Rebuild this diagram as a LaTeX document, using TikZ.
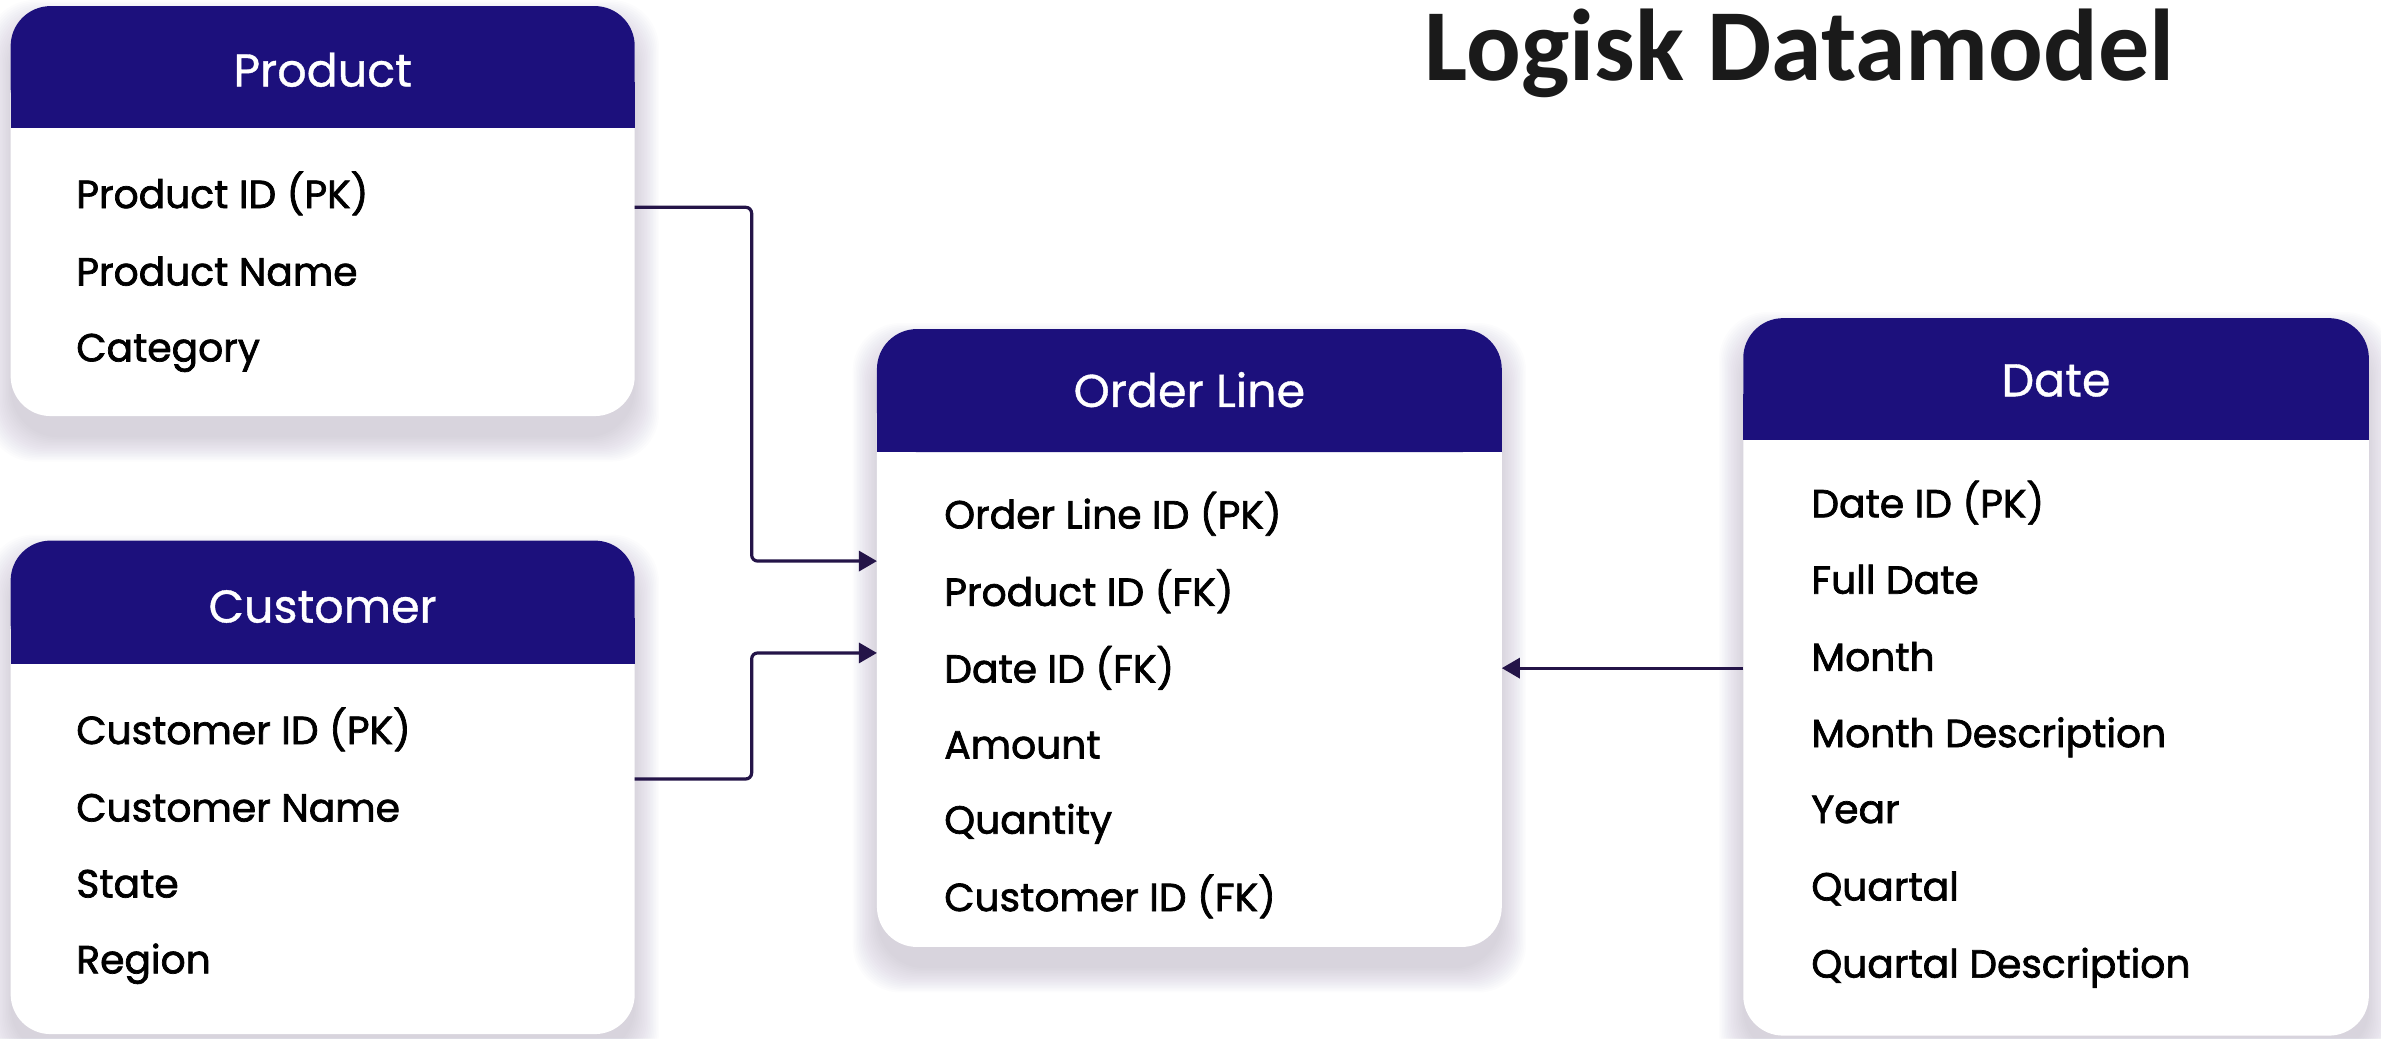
\documentclass[tikz,border=0pt]{standalone}
\usepackage{fontspec}
\setmainfont{Poppins}
\newfontfamily\itemfont{Poppins}[UprightFeatures={FakeBold=1.8}]
\newfontfamily\headfont{Poppins}[UprightFeatures={FakeBold=0.8}]
\newfontfamily\titlefont{Carlito}
\usetikzlibrary{fit,arrows.meta}
\definecolor{hdr}{RGB}{28,16,124}
\definecolor{connc}{RGB}{36,20,72}
\definecolor{ttl}{RGB}{26,26,26}
\definecolor{shadowc}{RGB}{70,60,110}
\newcommand\entity[8]{%
  \foreach \i in {0,...,16} {\fill[shadowc, opacity=0.013, rounded corners=24pt] (#2-\i,#3-\i+12) rectangle (#4+\i,#5+\i+14);}
  \node[box, fit={(#2,#3) (#4,#5)}] (#1) {};
  \fill[hdr, rounded corners=20pt] (#2,#3) rectangle (#4,#6);
  \fill[hdr] (#2,#6-30) rectangle (#4,#6);
  \node[hdrtxt] (#1T) at (#1.north |- 0,#7) {#8};
}
\begin{document}
\begin{tikzpicture}[x=0.7593pt,y=-0.7593pt,
  box/.style={fill=white, rounded corners=20pt, inner sep=0pt},
  hdrtxt/.style={text=white, font=\headfont\fontsize{23}{23}\selectfont, anchor=base, inner sep=0pt},
  item/.style={font=\itemfont\fontsize{19.6}{19.6}\selectfont, anchor=base west, inner sep=0pt, text=black},
  conn/.style={draw=connc, line width=1.6pt, rounded corners=3pt, -{Triangle[length=9pt,width=10pt]}}]
\useasboundingbox (0,0) rectangle (1568,683.6);
\fill[white] (0,0) rectangle (1568,683.6);

\entity{prod}{7}{4}{418}{274}{84}{57}{Product}
\entity{cust}{7}{356}{418}{681}{437}{410}{Customer}
\entity{ord}{577.5}{216.7}{989}{623.6}{297.7}{268}{Order Line}
\entity{date}{1148}{209.5}{1560}{682}{289.6}{261}{Date}

\node[item] (prod1) at (50,137) {Product ID (PK)};
\node[item] (prod2) at (50,188) {Product Name};
\node[item] (prod3) at (50,238) {Category};

\node[item] (cust1) at (50,490) {Customer ID (PK)};
\node[item] (cust2) at (50,541) {Customer Name};
\node[item] (cust3) at (50,591) {State};
\node[item] (cust4) at (50,641) {Region};

\node[item] (ord1) at (621.6,348) {Order Line ID (PK)};
\node[item] (ord2) at (621.6,399) {Product ID (FK)};
\node[item] (ord3) at (621.6,449.5) {Date ID (FK)};
\node[item] (ord4) at (621.6,499.5) {Amount};
\node[item] (ord5) at (621.6,549) {Quantity};
\node[item] (ord6) at (621.6,600) {Customer ID (FK)};

\node[item] (date1) at (1192.6,340.7) {Date ID (PK)};
\node[item] (date2) at (1192.6,391) {Full Date};
\node[item] (date3) at (1192.6,441.8) {Month};
\node[item] (date4) at (1192.6,492) {Month Description};
\node[item] (date5) at (1192.6,542) {Year};
\node[item] (date6) at (1192.6,593) {Quartal};
\node[item] (date7) at (1192.6,643.8) {Quartal Description};

\node[font=\titlefont\bfseries\fontsize{51}{51}\selectfont, text=ttl, anchor=base west, inner sep=0pt] (title) at (938,52.7) {Logisk Datamodel};

\coordinate (pout) at (418,136.5);
\coordinate (pin) at (577.5,369.5);
\coordinate (cout) at (418,513);
\coordinate (cin) at (577.5,430);
\coordinate (dout) at (1148,440);
\coordinate (din) at (989,440);

\draw[conn] (pout) -- (495,136.5) -- (495,369.5) -- (pin);
\draw[conn] (cout) -- (495,513) -- (495,430) -- (cin);
\draw[conn] (dout) -- (din);
\end{tikzpicture}
\end{document}
